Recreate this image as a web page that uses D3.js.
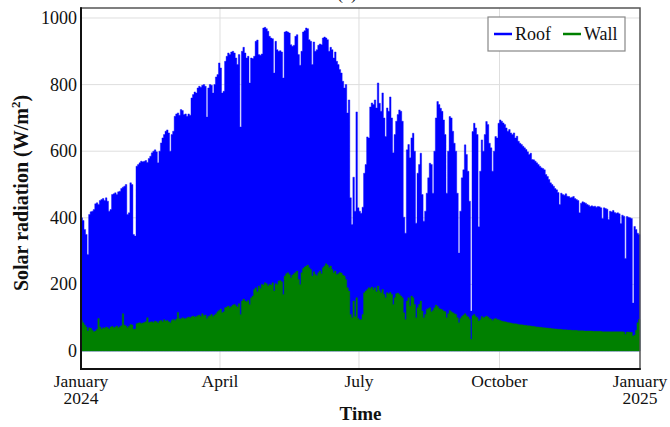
<!DOCTYPE html>
<html>
<head>
<meta charset="utf-8">
<script src="https://cdn.jsdelivr.net/npm/d3@7"></script>
<style>
  body { margin: 0; background: #fff; }
  svg { display: block; font-family: "Liberation Serif", "Times New Roman", serif; }
</style>
</head>
<body>
<svg id="chart" width="670" height="427"></svg>
<script>
// ====
// DATA
// ====

// one value per day (daily peak), 1 Jan 2024 .. 31 Dec 2024
const startDate = new Date(2024, 0, 1);
const endDate = new Date(2025, 0, 1);

const roof = [
  400, 392, 365, 350, 290, 410, 418, 420, 425, 442,
  445, 440, 452, 455, 458, 452, 460, 450, 420, 425,
  470, 472, 475, 470, 478, 480, 488, 492, 495, 500,
  410, 415, 505, 500, 350, 345, 555, 560, 565, 570,
  568, 570, 572, 566, 578, 585, 595, 600, 604, 598,
  565, 600, 625, 640, 650, 660, 664, 655, 600, 650,
  660, 705, 712, 715, 708, 725, 722, 710, 712, 705,
  712, 708, 760, 770, 778, 775, 790, 795, 792, 798,
  800, 795, 703, 790, 800, 798, 775, 800, 823, 830,
  865, 850, 775, 780, 870, 885, 895, 890, 898, 900,
  895, 880, 860, 890, 673, 900, 912, 895, 880, 885,
  805, 880, 878, 885, 930, 934, 890, 888, 892, 970,
  972, 968, 960, 945, 940, 938, 835, 930, 905, 900,
  902, 898, 820, 958, 960, 958, 955, 920, 915, 918,
  945, 950, 890, 858, 900, 958, 962, 970, 968, 935,
  930, 860, 928, 900, 905, 918, 922, 920, 940, 943,
  940, 935, 900, 912, 905, 880, 898, 870, 860, 845,
  835, 810, 790, 800, 715, 754, 460, 380, 522, 420,
  718, 430, 420, 414, 432, 534, 560, 643, 640, 733,
  745, 740, 754, 730, 805, 744, 720, 775, 700, 644,
  730, 720, 763, 700, 595, 650, 690, 710, 724, 720,
  690, 402, 354, 604, 620, 580, 640, 654, 600, 384,
  534, 560, 594, 470, 390, 420, 474, 520, 564, 560,
  474, 600, 700, 749, 740, 729, 720, 694, 650, 474,
  600, 704, 700, 660, 624, 600, 474, 294, 420, 520,
  544, 619, 590, 540, 450, 120, 659, 684, 670, 650,
  373, 540, 634, 600, 650, 689, 680, 624, 610, 540,
  600, 644, 640, 684, 694, 690, 685, 680, 670, 660,
  665, 655, 650, 655, 640, 645, 630, 624, 620, 615,
  610, 605, 598, 590, 594, 575, 574, 570, 565, 560,
  555, 550, 548, 544, 530, 524, 515, 505, 500, 495,
  488, 484, 476, 440, 474, 470, 468, 472, 465, 464,
  460, 462, 464, 458, 455, 452, 415, 444, 448, 446,
  444, 440, 438, 434, 436, 434, 435, 432, 434, 433,
  430, 398, 430, 428, 426, 395, 420, 418, 422, 416,
  414, 415, 412, 383, 408, 405, 278, 404, 402, 400,
  398, 144, 374, 365, 354, 350
];

const wall = [
  92, 85, 78, 72, 60, 70, 68, 62, 58, 60,
  65, 98, 72, 66, 70, 68, 72, 70, 66, 72,
  74, 70, 72, 75, 70, 73, 76, 112, 78, 75,
  70, 74, 80, 78, 65, 66, 82, 84, 85, 83,
  84, 86, 88, 100, 86, 87, 88, 86, 90, 88,
  84, 90, 92, 88, 94, 90, 92, 88, 85, 92,
  95, 92, 96, 116, 98, 96, 100, 98, 97, 100,
  102, 100, 103, 105, 102, 104, 106, 108, 104, 112,
  106, 108, 98, 104, 106, 110, 104, 108, 112, 118,
  122, 126, 115, 118, 130, 132, 135, 130, 134, 138,
  140, 136, 132, 142, 110, 150, 156, 150, 148, 152,
  140, 160, 165, 185, 190, 178, 195, 188, 200, 198,
  205, 202, 195, 200, 198, 205, 180, 202, 200, 210,
  212, 208, 170, 225, 232, 235, 230, 220, 228, 232,
  236, 240, 215, 200, 235, 248, 252, 255, 258, 250,
  245, 225, 238, 230, 226, 235, 240, 232, 250, 255,
  262, 258, 250, 255, 245, 235, 240, 230, 232, 236,
  234, 228, 225, 215, 190, 180, 110, 100, 150, 104,
  160, 98, 93, 95, 110, 175, 180, 185, 190, 188,
  192, 185, 190, 178, 195, 182, 175, 185, 170, 160,
  175, 172, 176, 170, 140, 160, 172, 174, 170, 165,
  160, 115, 95, 150, 160, 135, 165, 160, 140, 100,
  130, 140, 150, 120, 100, 110, 125, 128, 130, 118,
  122, 130, 138, 134, 128, 126, 124, 120, 118, 100,
  112, 122, 118, 115, 112, 110, 100, 85, 98, 104,
  108, 112, 106, 102, 96, 35, 106, 110, 104, 100,
  90, 95, 104, 100, 102, 105, 102, 98, 96, 92,
  96, 98, 95, 94, 92, 90, 89, 88, 87, 86,
  85, 84, 83, 82, 82, 81, 80, 79, 79, 78,
  77, 77, 76, 76, 75, 74, 74, 73, 72, 72,
  71, 71, 70, 70, 69, 69, 68, 68, 67, 67,
  66, 66, 65, 65, 65, 64, 64, 64, 63, 63,
  63, 62, 62, 62, 62, 61, 61, 61, 61, 60,
  60, 60, 60, 60, 60, 59, 59, 59, 59, 59,
  59, 58, 58, 58, 58, 58, 58, 58, 58, 58,
  58, 58, 58, 58, 58, 57, 50, 57, 57, 56,
  56, 45, 48, 62, 85, 95
];

const seriesNames = ["Roof", "Wall"];
const seriesColors = ["#0000ff", "#008000"];

const yTicks = [0, 200, 400, 600, 800, 1000];
const xTicks = [
  new Date(2024, 0, 1), new Date(2024, 3, 1), new Date(2024, 6, 1),
  new Date(2024, 9, 1), new Date(2025, 0, 1)
];
const xTickLabels = [["January", "2024"], ["April"], ["July"], ["October"], ["January", "2025"]];

// =====
// SETUP
// =====

const svg = d3.select("#chart");
const plotL = 81, plotR = 640, plotT = 8, plotB = 369;

const x = d3.scaleTime().domain([startDate, endDate]).range([plotL, plotR]);
const y = d3.scaleLinear().domain([-54, 1030]).range([plotB, plotT]);

// turn a daily array into step points, closing on 1 Jan 2025
function toPoints(values) {
  const pts = values.map((v, i) => ({ date: d3.timeDay.offset(startDate, i), v: v }));
  pts.push({ date: endDate, v: values[values.length - 1] });
  return pts;
}

// grid
svg.append("g")
  .selectAll("line")
  .data(yTicks)
  .enter()
  .append("line")
  .attr("x1", plotL).attr("x2", plotR)
  .attr("y1", d => y(d)).attr("y2", d => y(d))
  .attr("stroke", "#dedede").attr("stroke-width", 1);

svg.append("g")
  .selectAll("line")
  .data(xTicks.slice(1, -1))
  .enter()
  .append("line")
  .attr("x1", d => x(d)).attr("x2", d => x(d))
  .attr("y1", plotT).attr("y2", plotB)
  .attr("stroke", "#dedede").attr("stroke-width", 1);

// ======
// SERIES
// ======

const area = d3.area()
  .curve(d3.curveStepAfter)
  .x(d => x(d.date))
  .y0(y(0))
  .y1(d => y(d.v));

[roof, wall].forEach(function (values, k) {
  svg.append("path")
    .datum(toPoints(values))
    .attr("d", area)
    .attr("fill", seriesColors[k])
    .attr("stroke", seriesColors[k])
    .attr("stroke-width", 0.4);
});

// frame
svg.append("rect")
  .attr("x", plotL).attr("y", plotT)
  .attr("width", plotR - plotL).attr("height", plotB - plotT)
  .attr("fill", "none").attr("stroke", "#555").attr("stroke-width", 1.5);
svg.append("line")
  .attr("x1", plotL).attr("x2", plotL).attr("y1", plotT - 0.75).attr("y2", plotB + 1)
  .attr("stroke", "#111").attr("stroke-width", 2);
svg.append("line")
  .attr("x1", plotL - 1).attr("x2", plotR + 0.75).attr("y1", plotB).attr("y2", plotB)
  .attr("stroke", "#111").attr("stroke-width", 2);

// ====
// AXES
// ====

svg.append("g")
  .selectAll("text")
  .data(yTicks)
  .enter()
  .append("text")
  .attr("x", plotL - 4)
  .attr("y", d => y(d) + 6)
  .attr("text-anchor", "end")
  .attr("font-size", 18)
  .attr("fill", "#111")
  .text(d => d);

const xl = svg.append("g")
  .selectAll("text")
  .data(xTicks)
  .enter()
  .append("text")
  .attr("text-anchor", "middle")
  .attr("font-size", 17.5)
  .attr("fill", "#111");
xl.each(function (d, i) {
  const t = d3.select(this);
  xTickLabels[i].forEach(function (s, j) {
    t.append("tspan")
      .attr("x", x(d))
      .attr("y", 387 + j * 17)
      .text(s);
  });
});

svg.append("text")
  .attr("x", (plotL + plotR) / 2)
  .attr("y", 420)
  .attr("text-anchor", "middle")
  .attr("font-size", 19)
  .attr("font-weight", "bold")
  .attr("fill", "#111")
  .text("Time");

const ylab = svg.append("text")
  .attr("transform", "translate(28,193) rotate(-90)")
  .attr("text-anchor", "middle")
  .attr("font-size", 20)
  .attr("font-weight", "bold")
  .attr("fill", "#111");
ylab.append("tspan").text("Solar radiation (W/m");
ylab.append("tspan").attr("font-size", 13).attr("dy", -8).text("2");
ylab.append("tspan").attr("dy", 8).text(")");

// title, cut off by the top edge
svg.append("text")
  .attr("x", 347)
  .attr("y", -1)
  .attr("text-anchor", "middle")
  .attr("font-size", 18)
  .attr("fill", "#111")
  .text("(a)");

// ======
// LEGEND
// ======

const legend = svg.append("g").attr("transform", "translate(488,17)");
legend.append("rect")
  .attr("width", 137).attr("height", 34)
  .attr("fill", "#fff").attr("stroke", "#888").attr("stroke-width", 1.2);

const lx = [6, 75];
seriesNames.forEach(function (name, k) {
  legend.append("line")
    .attr("x1", lx[k]).attr("x2", lx[k] + 18)
    .attr("y1", 17).attr("y2", 17)
    .attr("stroke", seriesColors[k]).attr("stroke-width", 2.5);
  legend.append("text")
    .attr("x", lx[k] + 21)
    .attr("y", 23)
    .attr("font-size", 18)
    .attr("fill", "#111")
    .text(name);
});
</script>
</body>
</html>
